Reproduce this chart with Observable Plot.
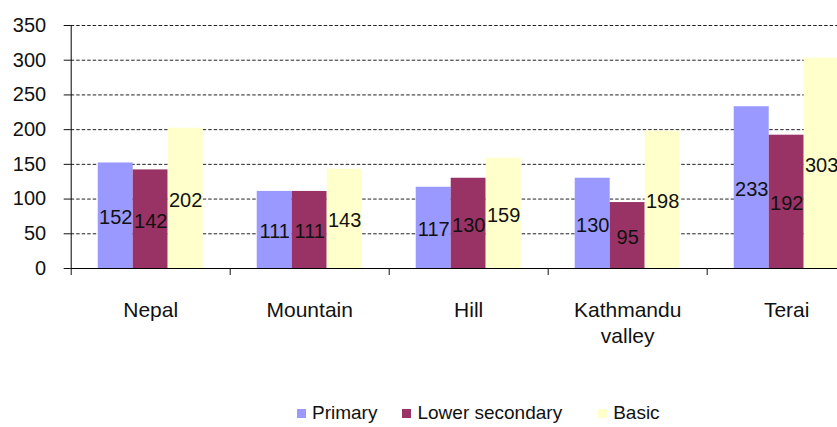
<!DOCTYPE html>
<html><head><meta charset="utf-8">
<script src="https://cdn.jsdelivr.net/npm/d3@7"></script>
<script src="https://cdn.jsdelivr.net/npm/@observablehq/plot@0.6"></script>
<style>
body{margin:0;background:#fff;width:837px;height:427px;overflow:hidden;font-family:"Liberation Sans",Arial,sans-serif;}
#chart svg{display:block;}
#legend{display:flex;align-items:center;height:36px;font-size:19px;line-height:22px;color:#111;}
.item{display:flex;align-items:center;}
.sw{width:9px;height:9px;margin-right:6px;}
</style></head><body><div id="chart"></div><div id="legend"></div>
<script>
const categories = ["Nepal", "Mountain", "Hill", "Kathmandu\nvalley", "Terai"];
const seriesNames = ["Primary", "Lower secondary", "Basic"];
const primary = [152, 111, 117, 130, 233];
const lowerSecondary = [142, 111, 130, 95, 192];
const basic = [202, 143, 159, 198, 303];
const yTicks = [0, 50, 100, 150, 200, 250, 300, 350];
const colors = ["#9999FF", "#993366", "#FFFFCC"];

const values = [primary, lowerSecondary, basic];
const rows = [];
categories.forEach((c, i) => seriesNames.forEach((s, j) => rows.push({category: c, i, series: s, j, value: values[j][i]})));
const boundaries = d3.range(categories.length + 1);
const groupStart = 0.17, barW = 0.22;
const x1 = d => d.i + groupStart + d.j * barW;

const chart = Plot.plot({
  width: 837, height: 395,
  marginLeft: 70.7, marginRight: -28.7, marginTop: 25, marginBottom: 127,
  x: {domain: [0, categories.length]},
  y: {domain: [0, 350]},
  color: {domain: seriesNames, range: colors},
  style: {fontFamily: "'Liberation Sans', Arial, sans-serif", fontSize: "20px", color: "#111", background: "#fff"},
  marks: [
    Plot.ruleY(yTicks.filter(v => v > 0), {stroke: "#222", strokeDasharray: "3.5,2"}),
    Plot.rectY(rows, {x1, x2: d => x1(d) + barW, y1: 0, y2: "value", fill: "series"}),
    Plot.text(rows, {x: d => x1(d) + barW / 2, y: d => d.value / 2, text: d => String(d.value), dy: 2, fill: "#111", fontSize: 20}),
    Plot.ruleY([0], {stroke: "#000"}),
    Plot.ruleX([0], {y1: 0, y2: 350, stroke: "#000"}),
    Plot.axisY({ticks: yTicks, tickSize: 7, tickPadding: 18, label: null, fontSize: 20}),
    Plot.axisX({ticks: boundaries, tickSize: 7, tickFormat: () => "", label: null}),
    Plot.text(categories, {x: (d, i) => i + 0.5, y: 0, dy: 31, lineAnchor: "top", lineHeight: 1.2, fontSize: 21, fill: "#111"})
  ]
});
document.getElementById("chart").append(chart);

const legend = document.getElementById("legend");
const gaps = [297, 25, 36];
seriesNames.forEach((s, j) => {
  const item = document.createElement("div");
  item.className = "item";
  item.style.marginLeft = gaps[j] + "px";
  const sw = document.createElement("span");
  sw.className = "sw";
  sw.style.background = colors[j];
  const t = document.createElement("span");
  t.textContent = s;
  item.append(sw, t);
  legend.append(item);
});
</script></body></html>
